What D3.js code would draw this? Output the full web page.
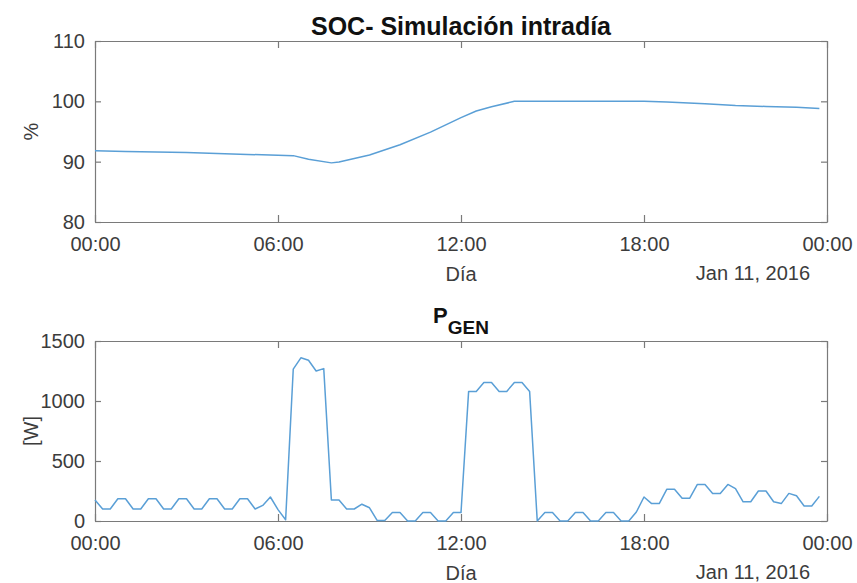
<!DOCTYPE html>
<html>
<head>
<meta charset="utf-8">
<script src="https://cdn.jsdelivr.net/npm/d3@7/dist/d3.min.js"></script>
<style>
  html, body { margin: 0; padding: 0; background: #fff; }
  svg { display: block; }
  text { font-family: "Liberation Sans", Arial, Helvetica, sans-serif; }
</style>
</head>
<body>
<svg id="chart" width="857" height="583"></svg>
<script>
// Simulated day
const dayStart = new Date(2016, 0, 11, 0, 0);
const dayEnd = new Date(2016, 0, 12, 0, 0);

// State of charge (%), sampled at the listed hours of the day
const socHours = [0, 1, 2, 3, 4, 5, 6, 6.5, 7, 7.75, 8, 9, 10, 11, 12, 12.5, 13, 13.75,
                  18, 18.75, 20, 21, 22, 23, 23.75];
const socValues = [91.8, 91.7, 91.6, 91.5, 91.35, 91.2, 91.05, 91.0, 90.4, 89.8, 89.95, 91.1,
                   92.8, 94.9, 97.3, 98.4, 99.1, 100, 100, 99.9, 99.6, 99.3, 99.15, 99.0, 98.8];

// Generated power (W), one value every 15 minutes from 00:00 to 23:45
const pgenStepMinutes = 15;
const pgenValues = [
  175, 100, 100, 185, 185, 100, 100, 185, 185, 100, 100, 185,
  185, 100, 100, 185, 185, 100, 100, 185, 185, 100, 130, 200,
  95, 10, 1265, 1360, 1340, 1250, 1270, 175, 175, 100, 100, 140,
  110, 5, 5, 70, 70, 0, 0, 70, 70, 0, 0, 70,
  70, 1080, 1080, 1155, 1155, 1080, 1080, 1155, 1155, 1080, 0, 70,
  70, 0, 0, 70, 70, 0, 0, 70, 70, 0, 0, 75,
  200, 145, 145, 265, 265, 190, 190, 305, 305, 230, 230, 305,
  270, 160, 160, 250, 250, 160, 145, 230, 210, 125, 125, 205
];

// Axis ticks
const socTicks = [80, 90, 100, 110];
const pgenTicks = [0, 500, 1000, 1500];
const xTickHours = [0, 6, 12, 18, 24];
const dateLabel = "Jan 11, 2016";
const xLabel = "Día";

const hourToDate = h => new Date(dayStart.getTime() + h * 3600 * 1000);
const socData = socHours.map((h, i) => ({ t: hourToDate(h), v: socValues[i] }));
const pgenData = pgenValues.map((v, i) => ({ t: hourToDate(i * pgenStepMinutes / 60), v }));

const svg = d3.select("#chart");
const left = 95, right = 827;
const axisColor = "#7a7a7a";
const textColor = "#3c3c3c";
const lineColor = "#5a9fd6";

const x = d3.scaleTime().domain([dayStart, dayEnd]).range([left, right]);
const xTicks = xTickHours.map(hourToDate);
const fmt = d3.timeFormat("%H:%M");

function panel(cfg) {
  const y = d3.scaleLinear().domain(cfg.domain).range([cfg.bottom, cfg.top]);
  const g = svg.append("g");

  // bottom axis with labels, ticks pointing inward
  const ax = g.append("g").attr("transform", `translate(0,${cfg.bottom})`)
    .call(d3.axisBottom(x).tickValues(xTicks).tickFormat(fmt).tickSizeInner(-7).tickSizeOuter(0).tickPadding(15));
  // top axis: ticks only
  const axTop = g.append("g").attr("transform", `translate(0,${cfg.top})`)
    .call(d3.axisTop(x).tickValues(xTicks).tickFormat("").tickSizeInner(-7).tickSizeOuter(0));
  // left axis with labels
  const ay = g.append("g").attr("transform", `translate(${left},0)`)
    .call(d3.axisLeft(y).tickValues(cfg.ticks).tickFormat(d3.format("d")).tickSizeInner(-6).tickSizeOuter(0).tickPadding(10));
  // right axis: ticks only
  const ayR = g.append("g").attr("transform", `translate(${right},0)`)
    .call(d3.axisRight(y).tickValues(cfg.ticks).tickFormat("").tickSizeInner(-6).tickSizeOuter(0));

  [ax, axTop, ay, ayR].forEach(a => {
    a.select(".domain").attr("stroke", axisColor).attr("stroke-width", 1.2);
    a.selectAll(".tick line").attr("stroke", axisColor).attr("stroke-width", 1.2);
    a.selectAll(".tick text").attr("fill", textColor).style("font-size", "20px")
      .style("font-family", '"Liberation Sans", Arial, sans-serif');
  });
  ax.selectAll(".tick text").attr("dy", "0.71em");

  // data line
  g.append("path")
    .datum(cfg.data)
    .attr("fill", "none")
    .attr("stroke", lineColor)
    .attr("stroke-width", 1.5)
    .attr("stroke-linejoin", "round")
    .attr("d", d3.line().x(d => x(d.t)).y(d => y(d.v)));

  // x label and date
  g.append("text").attr("x", x(hourToDate(12))).attr("y", cfg.bottom + 59)
    .attr("text-anchor", "middle").attr("fill", textColor).style("font-size", "20px").text(xLabel);
  g.append("text").attr("x", 810).attr("y", cfg.bottom + 58)
    .attr("text-anchor", "end").attr("fill", textColor).style("font-size", "20px").text(dateLabel);

  // y label
  g.append("text")
    .attr("transform", `translate(38,${(cfg.top + cfg.bottom) / 2}) rotate(-90)`)
    .attr("text-anchor", "middle").attr("fill", textColor).style("font-size", "20px")
    .text(cfg.yLabel);
  return g;
}

panel({ top: 41, bottom: 222, domain: [80, 110], ticks: socTicks, data: socData, yLabel: "%" });
panel({ top: 341, bottom: 521, domain: [0, 1500], ticks: pgenTicks, data: pgenData, yLabel: "[W]" });

// titles
svg.append("text").attr("x", x(hourToDate(12))).attr("y", 35)
  .attr("text-anchor", "middle").attr("fill", "#111").style("font-size", "25px").style("font-weight", "bold")
  .text("SOC- Simulación intradía");

const pt = svg.append("text").attr("x", x(hourToDate(12))).attr("y", 323)
  .attr("text-anchor", "middle").attr("fill", "#111").style("font-weight", "bold");
pt.append("tspan").style("font-size", "22px").text("P");
pt.append("tspan").style("font-size", "19px").attr("dy", 11).text("GEN");
</script>
</body>
</html>
